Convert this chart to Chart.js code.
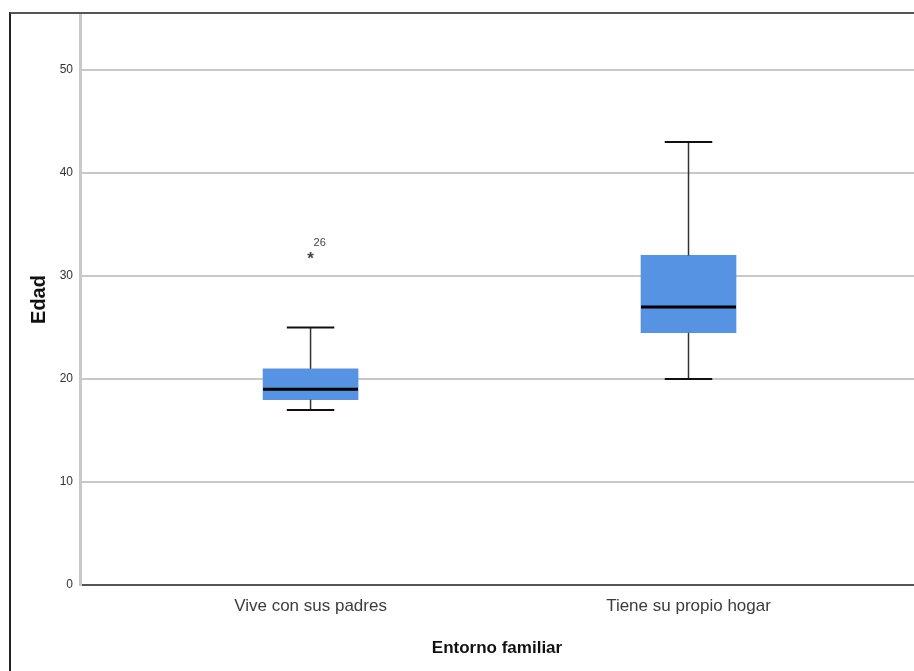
<!DOCTYPE html>
<html>
<head>
<meta charset="utf-8">
<script src="https://cdn.jsdelivr.net/npm/chart.js@4"></script>
<style>
  html, body { margin: 0; padding: 0; background: #fff; }
  #frame {
    position: absolute; left: 9px; top: 12px;
    width: 903px; height: 657px;
    border-left: 2px solid #222; border-top: 2px solid #555;
  }
  #chartEdad { display: block; }
</style>
</head>
<body>
<div id="frame"><canvas id="chartEdad" width="903" height="657"></canvas></div>
<script>
const categories = ["Vive con sus padres", "Tiene su propio hogar"];
const whiskerLow = [17, 20];
const q1 = [18, 24.5];
const median = [19, 27];
const q3 = [21, 32];
const whiskerHigh = [25, 43];
const outlierGroup = [0];
const outlierValue = [32];
const outlierCase = ["26"];
const yTicks = [0, 10, 20, 30, 40, 50];

const sans = "'Liberation Sans', Arial, sans-serif";

// whiskers, caps, median and outliers drawn on top of the bars
const boxExtras = {
  id: "boxExtras",
  afterDatasetsDraw(chart) {
    const ctx = chart.ctx;
    const x = chart.scales.x;
    const y = chart.scales.y;
    const boxW = 95;
    ctx.save();
    categories.forEach((c, i) => {
      const cx = x.getPixelForValue(i + 1);
      ctx.strokeStyle = "#333";
      ctx.lineWidth = 1.5;
      ctx.beginPath();
      ctx.moveTo(cx, y.getPixelForValue(q3[i]));
      ctx.lineTo(cx, y.getPixelForValue(whiskerHigh[i]));
      ctx.moveTo(cx, y.getPixelForValue(q1[i]));
      ctx.lineTo(cx, y.getPixelForValue(whiskerLow[i]));
      ctx.stroke();
      ctx.lineWidth = 2;
      ctx.strokeStyle = "#111";
      ctx.beginPath();
      ctx.moveTo(cx - boxW / 4, y.getPixelForValue(whiskerHigh[i]));
      ctx.lineTo(cx + boxW / 4, y.getPixelForValue(whiskerHigh[i]));
      ctx.moveTo(cx - boxW / 4, y.getPixelForValue(whiskerLow[i]));
      ctx.lineTo(cx + boxW / 4, y.getPixelForValue(whiskerLow[i]));
      ctx.stroke();
      ctx.lineWidth = 3;
      ctx.strokeStyle = "#000";
      ctx.beginPath();
      ctx.moveTo(cx - boxW / 2, y.getPixelForValue(median[i]));
      ctx.lineTo(cx + boxW / 2, y.getPixelForValue(median[i]));
      ctx.stroke();
    });
    outlierGroup.forEach((g, k) => {
      const px = x.getPixelForValue(g + 1);
      const py = y.getPixelForValue(outlierValue[k]);
      ctx.fillStyle = "#444";
      ctx.textAlign = "center";
      ctx.textBaseline = "middle";
      ctx.font = "bold 17px " + sans;
      ctx.fillText("*", px, py + 4);
      ctx.font = "11px " + sans;
      ctx.textAlign = "left";
      ctx.fillText(outlierCase[k], px + 3, py - 12);
    });
    ctx.restore();
  },
};

new Chart(document.querySelector("#chartEdad"), {
  type: "bar",
  data: {
    datasets: [
      {
        label: "Edad",
        data: categories.map((c, i) => ({ x: i + 1, y: [q1[i], q3[i]] })),
        backgroundColor: "#5693e3",
        borderWidth: 0,
        barThickness: 95,
      },
    ],
  },
  options: {
    responsive: false,
    animation: false,
    layout: { padding: 0 },
    scales: {
      x: {
        type: "linear",
        offset: false,
        min: 0.39,
        max: 2.5966,
        afterBuildTicks: (scale) => {
          scale.ticks = categories.map((c, i) => ({ value: i + 1 }));
        },
        afterFit: (scale) => {
          scale.height = 86;
          scale.paddingLeft = 0;
          scale.paddingRight = 0;
        },
        ticks: {
          callback: (v) => categories[v - 1],
          color: "#3c3c3c",
          font: { family: sans, size: 17 },
          padding: 11,
          maxRotation: 0,
        },
        grid: { display: false, drawTicks: false },
        border: { display: true, color: "#555", width: 2 },
        title: {
          display: true,
          text: "Entorno familiar",
          color: "#111",
          font: { family: sans, size: 17, weight: "bold" },
          padding: { top: 0, bottom: 12 },
        },
      },
      y: {
        min: 0,
        max: 55.44,
        afterBuildTicks: (scale) => {
          scale.ticks = yTicks.map((v) => ({ value: v }));
        },
        afterFit: (scale) => {
          scale.width = 69;
          scale.paddingTop = 0;
          scale.paddingBottom = 0;
        },
        ticks: {
          color: "#333",
          font: { family: sans, size: 12 },
          padding: 7,
        },
        grid: {
          drawTicks: false,
          color: (ctx) => (ctx.tick && ctx.tick.value === 0 ? "rgba(0,0,0,0)" : "#c8c8c8"),
          lineWidth: 2,
        },
        border: { display: true, color: "#c8c8c8", width: 3 },
        title: {
          display: true,
          text: "Edad",
          color: "#111",
          font: { family: sans, size: 20, weight: "bold" },
          padding: { top: 16, bottom: 0 },
        },
      },
    },
    plugins: {
      legend: { display: false },
      tooltip: { enabled: false },
    },
  },
  plugins: [boxExtras],
});
</script>
</body>
</html>
